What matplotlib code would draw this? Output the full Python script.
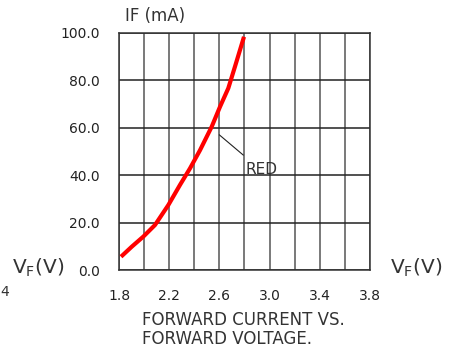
import matplotlib
matplotlib.use("Agg")
import matplotlib.pyplot as plt
import numpy as np

# Data
vf = [1.816, 1.901, 1.994, 2.087, 2.193, 2.286, 2.366, 2.446, 2.539, 2.605, 2.671, 2.724, 2.764, 2.796]
if_ma = [5.6, 9.8, 14.1, 19.0, 27.4, 35.9, 42.9, 50.6, 60.5, 68.9, 76.7, 85.8, 92.8, 98.4]
x_major = [1.8, 2.2, 2.6, 3.0, 3.4, 3.8]
x_major_labels = ["1.8", "2.2", "2.6", "3.0", "3.4", "3.8"]
x_minor = [2.0, 2.4, 2.8, 3.2, 3.6]
y_ticks = [0, 20, 40, 60, 80, 100]
y_labels = ["0.0", "20.0", "40.0", "60.0", "80.0", "100.0"]

plt.rcParams['font.family'] = ['DejaVu Sans']
fig = plt.figure(figsize=(4.52, 3.5), dpi=100)
ax = fig.add_axes([119/452, 1-270/350, 251/452, 237/350])
ax.set_xlim(1.8, 3.8)
ax.set_ylim(0, 100)

ax.set_xticks(x_major)
ax.set_xticklabels(x_major_labels, fontsize=10, color='#222222')
ax.set_xticks(x_minor, minor=True)
ax.set_yticks(y_ticks)
ax.set_yticklabels(y_labels, fontsize=10, color='#222222')
ax.tick_params(axis='both', which='both', length=0)
ax.tick_params(axis='x', pad=14)
ax.tick_params(axis='y', pad=14)

ax.xaxis.grid(True, which='both', color='#555555', linewidth=1.1)
ax.yaxis.grid(True, which='major', color='#222222', linewidth=1.1)
ax.set_axisbelow(True)
for s in ax.spines.values():
    s.set_color('#333333')
    s.set_linewidth(1.1)

ax.plot(vf, if_ma, color='#ff0000', linewidth=3, solid_capstyle='butt',
        solid_joinstyle='round', zorder=3)

# RED annotation
ax.plot([2.6, 2.79], [57.0, 48.5], color='#222222', linewidth=0.8, zorder=3)
ax.text(2.81, 42.5, "RED", fontsize=11, color='#333333', ha='left', va='center')

# Axis labels
fig.text(125/452, 1-16/350, "IF (mA)", fontsize=12, color='#333333', ha='left', va='center')
fig.text(12/452, 1-268/350, r"V$_\mathregular{F}$(V)", fontsize=14.5, color='#333333', ha='left', va='center')
fig.text(390/452, 1-268/350, r"V$_\mathregular{F}$(V)", fontsize=14.5, color='#333333', ha='left', va='center')
fig.text(0.5/452, 1-292/350, "4", fontsize=10, color='#333333', ha='left', va='center')

fig.text(243/452, 1-320/350, "FORWARD CURRENT VS.", fontsize=12, color='#333333', ha='center', va='center')
fig.text(142/452, 1-339/350, "FORWARD VOLTAGE.", fontsize=12, color='#333333', ha='left', va='center')

fig.savefig("out.png", dpi=100)
